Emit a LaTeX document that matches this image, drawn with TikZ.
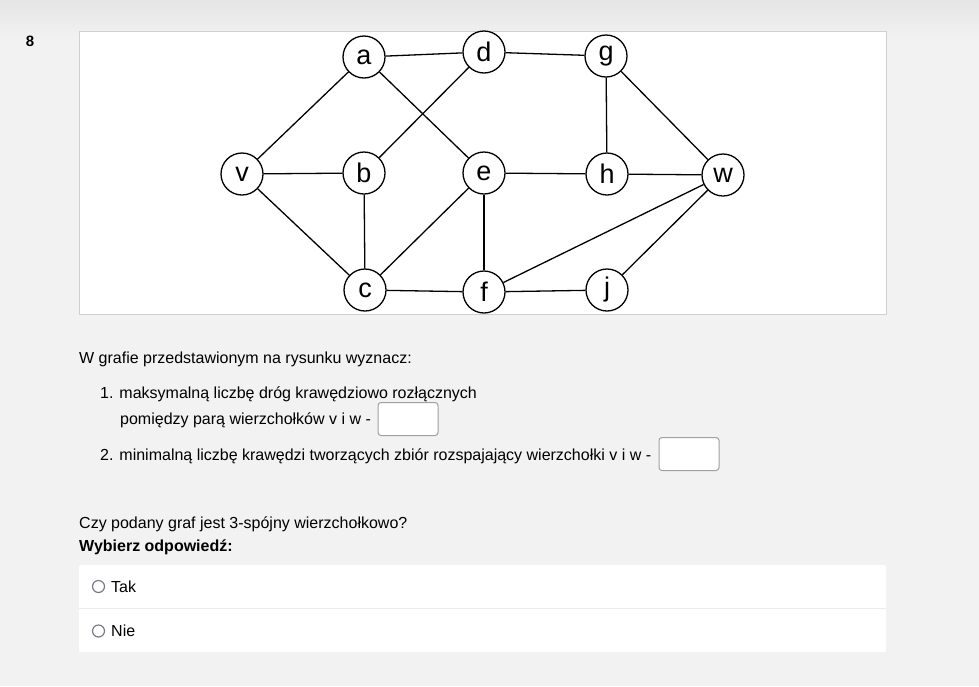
\documentclass[tikz,border=0pt]{standalone}
\usepackage{fontspec}
\setmainfont{Liberation Sans}
\definecolor{pagebg}{HTML}{F2F2F2}
\definecolor{framegray}{HTML}{D0D0D0}
\definecolor{boxgray}{HTML}{A0A0A0}
\definecolor{radiogray}{HTML}{7A7A85}
\definecolor{sepgray}{HTML}{ECECEC}

\begin{document}
\begin{tikzpicture}[x=1pt,y=-1pt,
    vertex/.style={circle,draw,line width=1.3pt,fill=white,minimum size=42pt,inner sep=0pt,font=\fontsize{27}{29}\selectfont},
    edge/.style={line width=1.3pt},
    txt/.style={anchor=base west,inner sep=0pt,font=\fontsize{16}{19}\selectfont},
    answerbox/.style={draw=boxgray,line width=1pt,fill=white,rounded corners=3pt,minimum width=60pt,minimum height=33pt,inner sep=0pt},
    radio/.style={circle,draw=radiogray,line width=1.2pt,minimum size=12pt,inner sep=0pt}]
    \useasboundingbox (0,0) rectangle (979,686);
    % page
    \fill[pagebg] (0,0) rectangle (979,686);
    \shade[top color=black!10,bottom color=pagebg] (0,0) rectangle (979,40);
    \node[anchor=base,inner sep=0pt,font=\fontsize{15}{18}\selectfont\bfseries] (nr) at (30,46) {8};

    % graph frame
    \draw[framegray,fill=white] (79.5,31.5) rectangle (886.5,314.5);

    \node[vertex] (a) at (364,57) {a};
    \node[vertex] (d) at (484,52) {d};
    \node[vertex] (g) at (606,56) {g};
    \node[vertex] (v) at (242,174) {v};
    \node[vertex] (b) at (364,173) {b};
    \node[vertex] (e) at (484,173) {e};
    \node[vertex] (h) at (607,174) {h};
    \node[vertex] (w) at (723,175) {w};
    \node[vertex] (c) at (365,290) {c};
    \node[vertex] (f) at (484,292) {f};
    \node[vertex] (j) at (607,290) {j};

    \draw[edge] (a) -- (d);
    \draw[edge] (d) -- (g);
    \draw[edge] (v) -- (a);
    \draw[edge] (a) -- (e);
    \draw[edge] (d) -- (b);
    \draw[edge] (g) -- (h);
    \draw[edge] (g) -- (w);
    \draw[edge] (v) -- (b);
    \draw[edge] (v) -- (c);
    \draw[edge] (b) -- (c);
    \draw[edge] (e) -- (c);
    \draw[edge] (e) -- (h);
    \draw[edge] (e) -- (f);
    \draw[edge] (h) -- (w);
    \draw[edge] (f) -- (w);
    \draw[edge] (j) -- (w);
    \draw[edge] (c) -- (f);
    \draw[edge] (f) -- (j);

    % question
    \node[txt] (intro) at (79,363) {W grafie przedstawionym na rysunku wyznacz:};
    \node[txt] (q1) at (100,398) {1. maksymalną liczbę dróg krawędziowo rozłącznych};
    \node[txt] (q1b) at (120,424) {pomiędzy parą wierzchołków v i w -};
    \node[answerbox] (ans1) at (408,419) {};
    \node[txt] (q2) at (100,460) {2. minimalną liczbę krawędzi tworzących zbiór rozspajający wierzchołki v i w -};
    \node[answerbox] (ans2) at (689,454) {};

    \node[txt] (ask) at (79,528) {Czy podany graf jest 3-spójny wierzchołkowo?};
    \node[txt,font=\fontsize{16}{19}\selectfont\bfseries] (pick) at (79,551) {Wybierz odpowiedź:};

    % options
    \fill[white,rounded corners=2pt] (79,565) rectangle (886,652);
    \draw[sepgray] (79,608.5) -- (886,608.5);
    \node[radio] (r1) at (98.5,586.5) {};
    \node[txt,anchor=west] (tak) at (111,586.5) {Tak};
    \node[radio] (r2) at (98.5,631) {};
    \node[txt,anchor=west] (nie) at (111,631) {Nie};
\end{tikzpicture}
\end{document}
